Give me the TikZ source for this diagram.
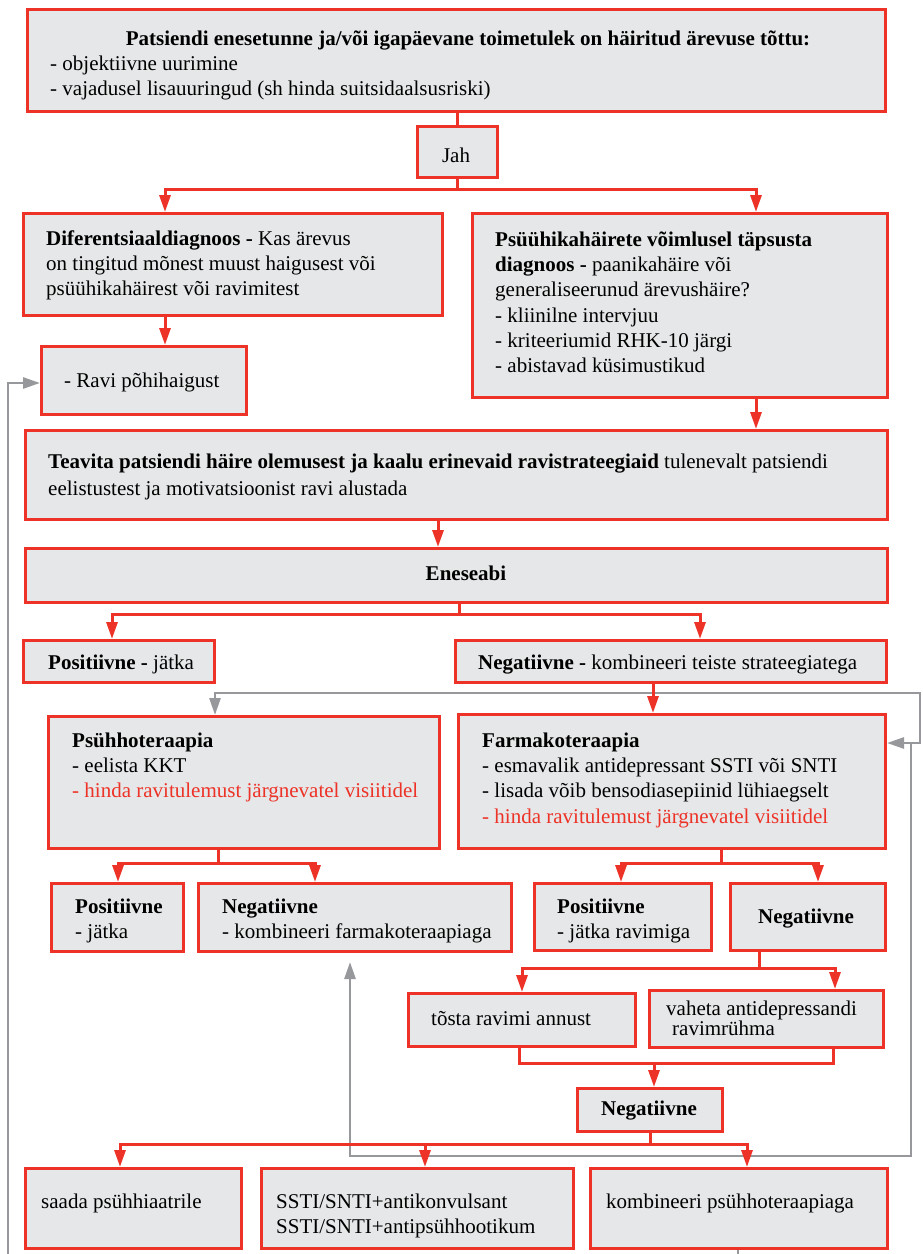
\documentclass[tikz,border=0pt]{standalone}
\usepackage{fontspec}
\setmainfont{Liberation Serif}
\usetikzlibrary{arrows.meta}
\definecolor{rd}{RGB}{237,50,39}
\definecolor{bxfill}{RGB}{230,231,232}
\definecolor{gr}{RGB}{150,152,155}
\newcommand{\bx}[5]{\node[box,anchor=north west,minimum width={#4pt-#2pt},minimum height={#5pt-#3pt}] (#1) at (#2,#3) {};}
\newcommand{\tl}[4]{\node[txt,anchor=north west] (#1) at (#2,#3-17.7) {\strut #4};}
\newcommand{\tc}[4]{\node[txt,anchor=base] (#1) at (#2,#3) {#4};}
\begin{document}
\begin{tikzpicture}[x=1pt,y=-1pt,
  box/.style={draw=rd,fill=bxfill,line width=3pt,inner sep=0pt},
  txt/.style={inner sep=0pt,align=left,font=\fontsize{21}{25.3}\selectfont},
  rl/.style={draw=rd,line width=3pt},
  rarr/.style={rl,-{Triangle[length=17pt,width=11pt]}},
  garr/.style={draw=gr,line width=2.7pt,-{Triangle[length=17pt,width=11pt]}},
  gl/.style={draw=gr,line width=2.7pt}]
\useasboundingbox (0,0) rectangle (922,1254);
% coordinates
\coordinate (s1) at (165,189); \coordinate (s2) at (756,189);
\coordinate (s3) at (438,520);
\coordinate (e0) at (459,614); \coordinate (e1) at (112,614); \coordinate (e2) at (700,614);
\coordinate (n1) at (653,690);
\coordinate (p0) at (218,863); \coordinate (p1) at (118,863); \coordinate (p2) at (315,863);
\coordinate (f0) at (721,863); \coordinate (f1) at (621,863); \coordinate (f2) at (818,863);
\coordinate (g0) at (759,968); \coordinate (g1) at (522,968); \coordinate (g2) at (835,968);
\coordinate (h0) at (654,1063); \coordinate (h1) at (519,1063); \coordinate (h2) at (833,1063);
\coordinate (k0) at (650,1144); \coordinate (k1) at (120,1144); \coordinate (k2) at (425,1144); \coordinate (k3) at (747,1144);
\coordinate (q0) at (738,1266); \coordinate (q1) at (8,1266); \coordinate (q2) at (8,383);
\coordinate (r0) at (350,1156); \coordinate (r1) at (911,1156); \coordinate (r2) at (911,743); \coordinate (r3) at (350,962);
\coordinate (t0) at (920,743); \coordinate (t1) at (920,693); \coordinate (t2) at (215,693);
% boxes
\bx{top}{26}{8}{884}{110}
\bx{jah}{416}{125}{496}{176}
\bx{dif}{22}{212}{441}{314}
\bx{psy}{471}{212}{886}{396}
\bx{ravi}{40}{345}{245}{413}
\bx{teav}{24}{429}{886}{518}
\bx{enes}{24}{547}{886}{601}
\bx{pos1}{22}{639}{213}{681}
\bx{neg1}{454}{639}{885}{681}
\bx{psh}{47}{715}{438}{847}
\bx{farm}{457}{713}{884}{847}
\bx{pos2}{50}{882}{182}{950}
\bx{neg2}{197}{882}{510}{950}
\bx{pos3}{533}{882}{710}{949}
\bx{neg3}{729}{882}{884}{949}
\bx{tosta}{407}{992}{634}{1045}
\bx{vah}{648}{989}{882}{1046}
\bx{neg4}{576}{1087}{721}{1130}
\bx{saada}{24}{1167}{240}{1247}
\bx{ssti}{260}{1167}{572}{1247}
\bx{komb}{589}{1167}{886}{1247}
% gray connectors
\draw[garr] (q0 |- komb.south) -- (q0) -- (q1) -- (q2) -- (q2 -| ravi.west);
\draw[garr] (r2) -- (r1) -- (r0) -- (r3);
\draw[garr] (r2) -- (r2 -| farm.east);
\draw[garr] (r2) -- (t0) -- (t1) -- (t2) -- (t2 |- psh.north);
% red connectors
\draw[rl] (jah.north |- top.south) -- (jah.north);
\draw[rarr] (jah.south) |- (s1) -- (s1 |- dif.north);
\draw[rarr] (jah.south) |- (s2) -- (s2 |- psy.north);
\draw[rarr] (s1 |- dif.south) -- (s1 |- ravi.north);
\draw[rarr] (s2 |- psy.south) -- (s2 |- teav.north);
\draw[rarr] (s3 |- teav.south) -- (s3 |- enes.north);
\draw[rarr] (e0 |- enes.south) -- (e0) -- (e1) -- (e1 |- pos1.north);
\draw[rarr] (e0) -- (e2) -- (e2 |- neg1.north);
\draw[rarr] (n1 |- neg1.south) -- (n1 |- farm.north);
\draw[rarr] (p0 |- psh.south) -- (p0) -- (p1) -- (p1 |- pos2.north);
\draw[rarr] (p0) -- (p2) -- (p2 |- neg2.north);
\draw[rarr] (f0 |- farm.south) -- (f0) -- (f1) -- (f1 |- pos3.north);
\draw[rarr] (f0) -- (f2) -- (f2 |- neg3.north);
\draw[rarr] (g0 |- neg3.south) -- (g0) -- (g1) -- (g1 |- tosta.north);
\draw[rarr] (g0) -- (g2) -- (g2 |- vah.north);
\draw[rl] (h1 |- tosta.south) -- (h1) -- (h2) -- (h2 |- vah.south);
\draw[rarr] (h0) -- (h0 |- neg4.north);
\draw[rarr] (k0 |- neg4.south) -- (k0) -- (k1) -- (k1 |- saada.north);
\draw[rarr] (k0) -- (k2) -- (k2 |- ssti.north);
\draw[rarr] (k0) -- (k3) -- (k3 |- komb.north);
% texts
\tc{toptitle}{468}{45}{\textbf{Patsiendi enesetunne ja/või igapäevane toimetulek on häiritud ärevuse tõttu:}}
\tl{toptext}{50}{70}{- objektiivne uurimine\\- vajadusel lisauuringud (sh hinda suitsidaalsusriski)}
\tc{jahtext}{456}{162}{Jah}
\tl{diftext}{46}{245}{\textbf{Diferentsiaaldiagnoos -} Kas ärevus\\on tingitud mõnest muust haigusest või\\psüühikahäirest või ravimitest}
\tl{psytext}{495}{246}{\textbf{Psüühikahäirete võimlusel täpsusta}\\\textbf{diagnoos -} paanikahäire või\\generaliseerunud ärevushäire?\\- kliinilne intervjuu\\- kriteeriumid RHK-10 järgi\\- abistavad küsimustikud}
\tl{ravitext}{64}{387}{- Ravi põhihaigust}
\tl{teavtext}{48}{468}{\textbf{Teavita patsiendi häire olemusest ja kaalu erinevaid ravistrateegiaid} tulenevalt patsiendi\\[1.5pt]eelistustest ja motivatsioonist ravi alustada}
\tc{enestext}{466}{580}{\textbf{Eneseabi}}
\tl{pos1text}{48}{669}{\textbf{Positiivne -} jätka}
\tl{neg1text}{478}{669}{\textbf{Negatiivne -} kombineeri teiste strateegiatega}
\tl{pshtext}{72}{747}{\textbf{Psühhoteraapia}\\- eelista KKT\\\textcolor{rd}{- hinda ravitulemust järgnevatel visiitidel}}
\tl{farmtext}{482}{747}{\textbf{Farmakoteraapia}\\- esmavalik antidepressant SSTI või SNTI\\- lisada võib bensodiasepiinid lühiaegselt\\\textcolor{rd}{- hinda ravitulemust järgnevatel visiitidel}}
\tl{pos2text}{75}{913}{\textbf{Positiivne}\\- jätka}
\tl{neg2text}{222}{913}{\textbf{Negatiivne}\\- kombineeri farmakoteraapiaga}
\tl{pos3text}{557}{913}{\textbf{Positiivne}\\- jätka ravimiga}
\tc{neg3text}{806}{923}{\textbf{Negatiivne}}
\tl{tostatext}{431}{1025}{tõsta ravimi annust}
\tl{vahtext}{666}{1015}{vaheta antidepressandi}
\tl{vahtextb}{672}{1035}{ravimrühma}
\tc{neg4text}{649}{1115}{\textbf{Negatiivne}}
\tl{saadatext}{41}{1208}{saada psühhiaatrile}
\tl{sstitext}{276}{1208}{SSTI/SNTI+antikonvulsant\\SSTI/SNTI+antipsühhootikum}
\tl{kombtext}{606}{1208}{kombineeri psühhoteraapiaga}
\end{tikzpicture}
\end{document}
